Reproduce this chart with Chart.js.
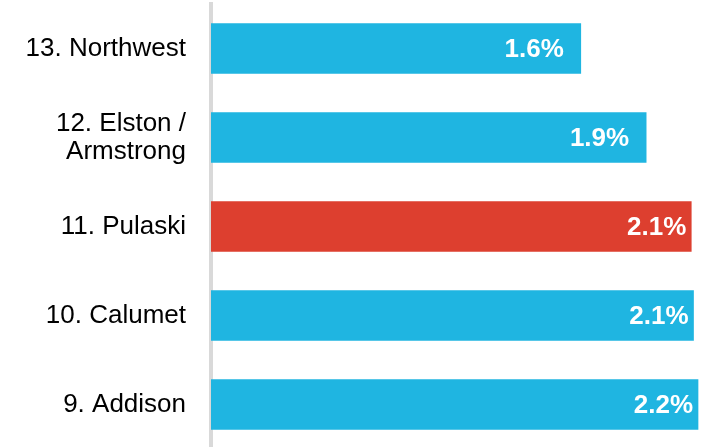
<!DOCTYPE html>
<html>
<head>
<meta charset="utf-8">
<script src="https://cdn.jsdelivr.net/npm/chart.js@4/dist/chart.umd.min.js"></script>
<style>
  html, body { margin: 0; padding: 0; background: #fff; overflow: hidden; }
  #wrap { position: relative; width: 712px; height: 449px; }
</style>
</head>
<body>
<div id="wrap"><canvas id="c"></canvas></div>
<script>
// ---- data ----
const categories = [
  "13. Northwest",
  ["12. Elston /", "Armstrong"],
  "11. Pulaski",
  "10. Calumet",
  "9. Addison"
];
const values = [1.64, 1.93, 2.13, 2.14, 2.16];
const highlighted = [false, false, true, false, false];

const BLUE = "rgb(31,181,225)";
const RED = "rgb(221,63,47)";
const FONT = "'Liberation Sans', Arial, sans-serif";

const valueLabels = {
  id: "valueLabels",
  afterDatasetsDraw(chart) {
    const ctx = chart.ctx;
    const meta = chart.getDatasetMeta(0);
    ctx.save();
    ctx.font = "bold 26px " + FONT;
    ctx.fillStyle = "#ffffff";
    ctx.textAlign = "right";
    ctx.textBaseline = "middle";
    meta.data.forEach((bar, i) => {
      const end = bar.x;
      const gap = end > 680 ? 5 : 17;
      ctx.fillText(values[i].toFixed(1) + "%", end - gap, bar.y + 1);
    });
    ctx.restore();
  }
};

new Chart(document.getElementById("c"), {
  type: "bar",
  data: {
    labels: categories,
    datasets: [{
      data: values,
      backgroundColor: highlighted.map(h => h ? RED : BLUE),
      borderWidth: 0,
      barThickness: 50
    }]
  },
  options: {
    indexAxis: "y",
    responsive: true,
    maintainAspectRatio: false,
    animation: false,
    layout: { padding: { top: 4, right: 0, bottom: 0, left: 0 } },
    plugins: {
      legend: { display: false },
      tooltip: { enabled: false }
    },
    scales: {
      x: {
        display: false,
        min: 0,
        max: 2.222
      },
      y: {
        afterFit(scale) {
          scale.width = 211;
          scale.paddingTop = 0;
          scale.paddingBottom = 0;
        },
        grid: { display: false, drawTicks: false },
        border: { display: true, color: "#d9d9d9", width: 4 },
        ticks: {
          padding: 25,
          color: "#000000",
          font: { family: FONT, size: 26, lineHeight: 1.08 }
        }
      }
    }
  },
  plugins: [valueLabels]
});
</script>
</body>
</html>
